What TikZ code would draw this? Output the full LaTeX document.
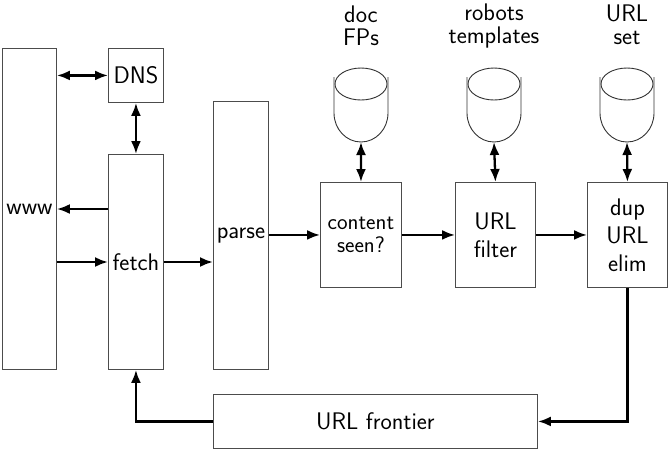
\documentclass[tikz,border=0pt]{standalone}
\usetikzlibrary{arrows.meta}
\begin{document}
\begin{tikzpicture}[x=1pt,y=-1pt,
  font=\sffamily,
  box/.style={draw=black!70, line width=0.9pt, inner sep=0pt, anchor=north west},
  lbl/.style={font=\sffamily\fontsize{24}{26}\selectfont, align=center},
  tip/.tip={Latex[length=13pt,width=10pt]},
  flow/.style={line width=2.3pt, -tip},
  both/.style={line width=2.3pt, tip-tip},
  store/.style={draw=black!80, line width=0.9pt}
]
\useasboundingbox (0,0) rectangle (669,451);

% processing stages
\node[box, minimum width=54pt, minimum height=321pt] (www) at (2,48) {};
\node[box, minimum width=55pt, minimum height=54pt] (dns) at (108,48) {};
\node[box, minimum width=55pt, minimum height=215pt] (fetch) at (108,154) {};
\node[box, minimum width=55pt, minimum height=268pt] (parse) at (213,101) {};
\node[box, minimum width=81pt, minimum height=105pt] (seen) at (320,182) {};
\node[box, minimum width=80pt, minimum height=105pt] (filter) at (455,182) {};
\node[box, minimum width=80pt, minimum height=105pt] (dup) at (587,182) {};
\node[box, minimum width=324pt, minimum height=54pt] (frontier) at (213,394) {};

\node[lbl] (twww) at (www.center) {www};
\node[lbl] (tdns) at (dns.center) {DNS};
\node[lbl] (tfetch) at (fetch.center) {fetch};
\node[lbl] (tparse) at (parse.center) {parse};
\node[lbl, font=\sffamily\fontsize{22.5}{23}\selectfont] (tseen) at (seen.center) {content\\seen?};
\node[lbl, font=\sffamily\fontsize{24}{28}\selectfont] (tfilter) at (filter.center) {URL\\filter};
\node[lbl, font=\sffamily\fontsize{24}{28}\selectfont] (tdup) at (dup.center) {dup\\URL\\elim};
\node[lbl] (tfrontier) at (frontier.center) {URL frontier};

% data stores (cylinders)
\foreach \name/\cx in {sfp/361, srob/494, sset/627} {
  \draw[store] (\cx,84) ellipse [x radius=26pt, y radius=16pt];
  \draw[store] (\cx-27,77) -- (\cx-27,113)
     arc[start angle=180, end angle=360, x radius=27pt, y radius=29pt]
     -- (\cx+27,77);
  \coordinate (\name) at (\cx,142);
}

\node[lbl, font=\sffamily\fontsize{24}{23}\selectfont] (lfp) at (361,26) {doc\\FPs};
\node[lbl, font=\sffamily\fontsize{24}{23}\selectfont] (lrob) at (494,26) {robots\\templates};
\node[lbl, font=\sffamily\fontsize{24}{23}\selectfont] (lset) at (627,25) {URL\\set};

% connectors
\draw[both] (www.east |- dns.west) -- (dns.west);
\draw[both] (dns.south) -- (fetch.north);
\draw[flow] (fetch.west |- 0,209) -- (www.east |- 0,209);
\draw[flow] (www.east |- 0,262) -- (fetch.west |- 0,262);
\draw[flow] (fetch.east |- 0,262) -- (parse.west |- 0,262);
\draw[flow] (parse.east |- seen.west) -- (seen.west);
\draw[flow] (seen.east) -- (filter.west);
\draw[flow] (filter.east) -- (dup.west);
\draw[both] (sfp) -- (seen.north);
\draw[both] (srob) -- (filter.north);
\draw[both] (sset) -- (dup.north);
\draw[flow] (dup.south) |- (frontier.east);
\draw[flow] (frontier.west) -| (fetch.south);
\end{tikzpicture}
\end{document}
